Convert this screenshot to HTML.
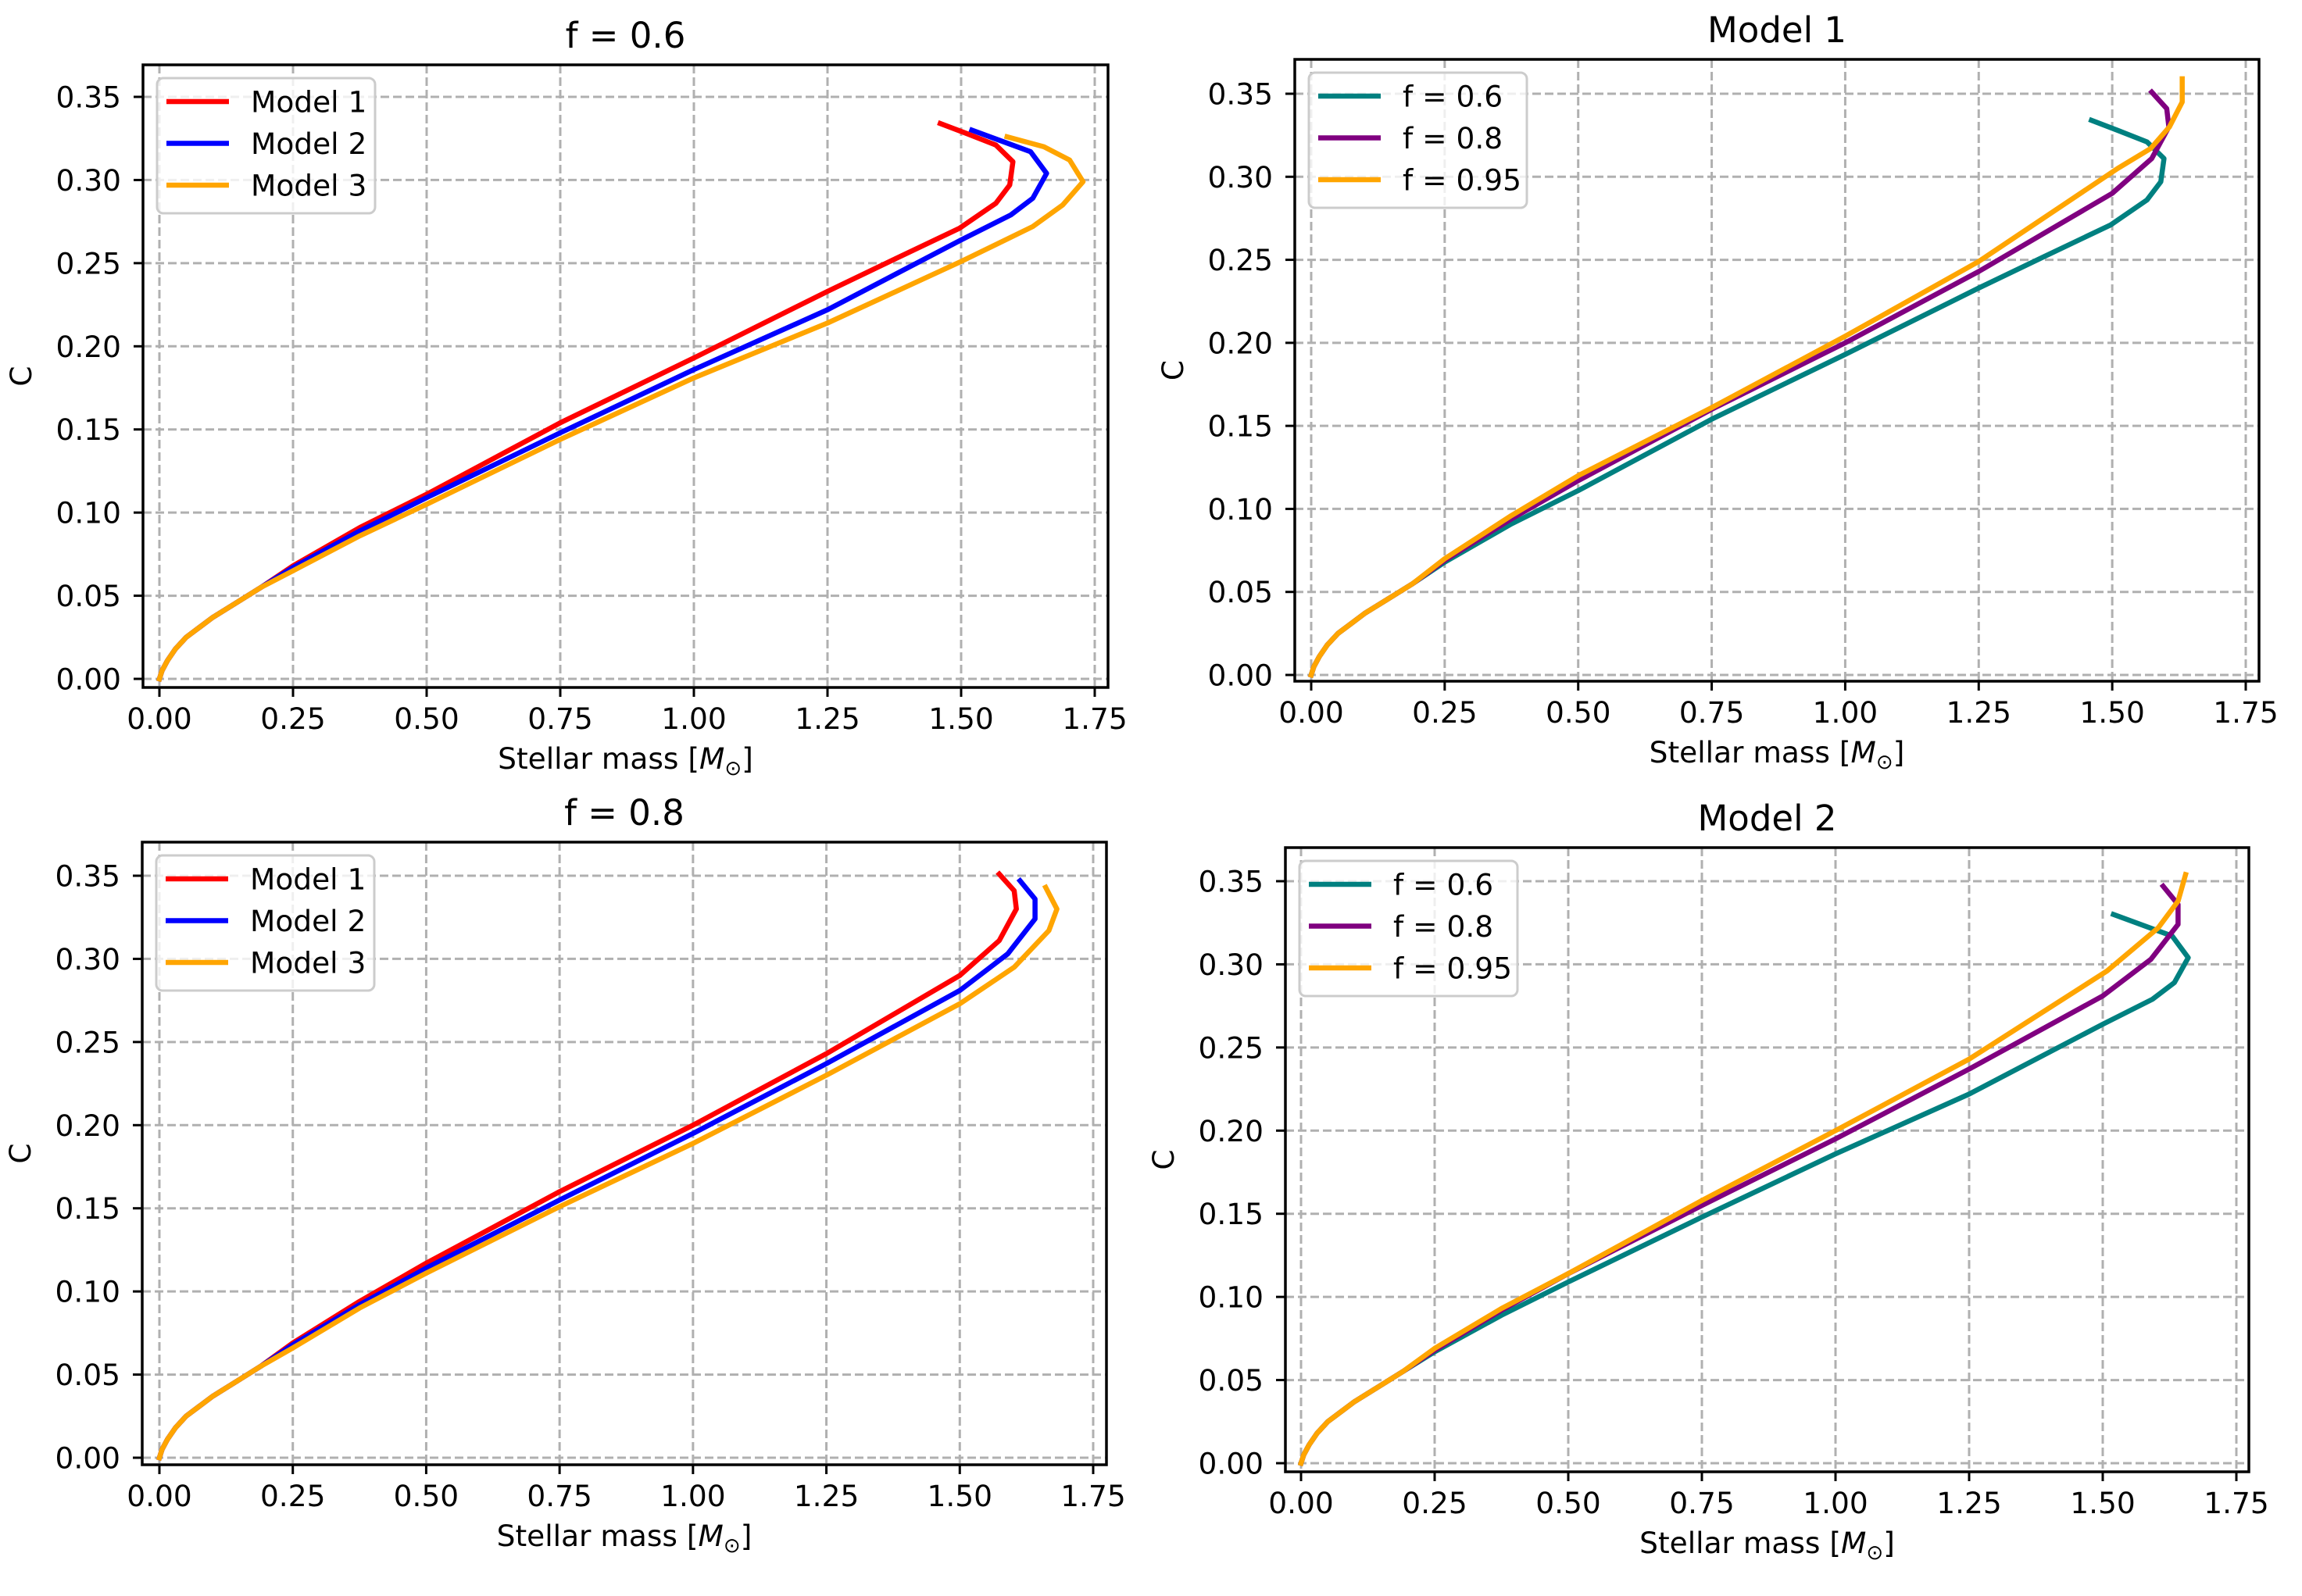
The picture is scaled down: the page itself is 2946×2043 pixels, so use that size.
<!DOCTYPE html>
<html><head><meta charset="utf-8">
<style>
html,body{margin:0;padding:0;background:#fff;}
svg{display:block;font-family:"DejaVu Sans","Liberation Sans",sans-serif;}
</style></head>
<body>
<svg id="fig" width="2946" height="2043" viewBox="0 0 2946 2043" xmlns="http://www.w3.org/2000/svg"></svg>
<script>
const xTicks = [0, 0.25, 0.5, 0.75, 1.0, 1.25, 1.5, 1.75];
const xTickLabels = ["0.00","0.25","0.50","0.75","1.00","1.25","1.50","1.75"];
const yTicks = [0, 0.05, 0.1, 0.15, 0.2, 0.25, 0.3, 0.35];
const yTickLabels = ["0.00","0.05","0.10","0.15","0.20","0.25","0.30","0.35"];

const lowM = [0, 0.005, 0.015, 0.03, 0.05, 0.075, 0.1, 0.15, 0.19];
const lowC = [0, 0.005, 0.011, 0.018, 0.025, 0.031, 0.037, 0.047, 0.055];

// f = 0.6 curves
const m1f06M = [0.25, 0.375, 0.5, 0.75, 1.0, 1.25, 1.373, 1.497, 1.565, 1.591, 1.597, 1.565, 1.51, 1.461];
const m1f06C = [0.068, 0.091, 0.111, 0.154, 0.193, 0.233, 0.252, 0.271, 0.286, 0.297, 0.311, 0.321, 0.328, 0.334];
const m2f06M = [0.25, 0.375, 0.5, 0.75, 1.0, 1.25, 1.5, 1.593, 1.634, 1.66, 1.63, 1.52];
const m2f06C = [0.067, 0.089, 0.109, 0.148, 0.186, 0.222, 0.264, 0.279, 0.289, 0.304, 0.317, 0.330];
const m3f06M = [0.25, 0.375, 0.5, 0.75, 1.0, 1.25, 1.5, 1.634, 1.69, 1.728, 1.703, 1.655, 1.586];
const m3f06C = [0.065, 0.086, 0.105, 0.144, 0.181, 0.214, 0.251, 0.272, 0.285, 0.299, 0.312, 0.320, 0.326];
// f = 0.8 curves
const m1f08M = [0.25, 0.375, 0.5, 0.75, 1.0, 1.25, 1.5, 1.574, 1.606, 1.602, 1.574];
const m1f08C = [0.069, 0.094, 0.117, 0.160, 0.200, 0.243, 0.290, 0.311, 0.330, 0.341, 0.351];
const m2f08M = [0.25, 0.375, 0.5, 0.75, 1.0, 1.25, 1.5, 1.59, 1.641, 1.641, 1.613];
const m2f08C = [0.068, 0.092, 0.114, 0.155, 0.195, 0.237, 0.281, 0.303, 0.324, 0.336, 0.347];
const m3f08M = [0.25, 0.375, 0.5, 0.75, 1.0, 1.25, 1.5, 1.602, 1.667, 1.682, 1.661];
const m3f08C = [0.066, 0.090, 0.111, 0.151, 0.189, 0.230, 0.273, 0.295, 0.317, 0.330, 0.343];
// f = 0.95 curves
const m1f95M = [0.25, 0.375, 0.5, 0.75, 1.0, 1.25, 1.51, 1.572, 1.607, 1.631, 1.631];
const m1f95C = [0.070, 0.096, 0.120, 0.161, 0.204, 0.249, 0.305, 0.317, 0.330, 0.345, 0.359];
const m2f95M = [0.25, 0.375, 0.5, 0.75, 1.0, 1.25, 1.508, 1.604, 1.641, 1.655];
const m2f95C = [0.069, 0.093, 0.114, 0.158, 0.200, 0.243, 0.296, 0.322, 0.338, 0.354];

const NS = "http://www.w3.org/2000/svg";
const svg = document.getElementById("fig");
function mk(tag, attrs, parent){
  const e = document.createElementNS(NS, tag);
  for (const k in attrs) e.setAttribute(k, attrs[k]);
  (parent||svg).appendChild(e);
  return e;
}

const panels = [
  {name:"f06", title:"f = 0.6", box:[183,83,1418,880], x0:204, x175:1401, y0:869, y35:124,
   series:[["Model 1","#ff0000",m1f06M,m1f06C],["Model 2","#0000ff",m2f06M,m2f06C],["Model 3","#ffa500",m3f06M,m3f06C]]},
  {name:"model1", title:"Model 1", box:[1657,76,2891,872], x0:1678, x175:2874, y0:864, y35:120,
   series:[["f = 0.6","#008080",m1f06M,m1f06C],["f = 0.8","#800080",m1f08M,m1f08C],["f = 0.95","#ffa500",m1f95M,m1f95C]]},
  {name:"f08", title:"f = 0.8", box:[182,1078,1416,1875], x0:204, x175:1399, y0:1866, y35:1121,
   series:[["Model 1","#ff0000",m1f08M,m1f08C],["Model 2","#0000ff",m2f08M,m2f08C],["Model 3","#ffa500",m3f08M,m3f08C]]},
  {name:"model2", title:"Model 2", box:[1645,1085,2878,1884], x0:1665, x175:2862, y0:1873, y35:1128,
   series:[["f = 0.6","#008080",m2f06M,m2f06C],["f = 0.8","#800080",m2f08M,m2f08C],["f = 0.95","#ffa500",m2f95M,m2f95C]]}
];

panels.forEach(p => {
  const g = mk("g", {});
  
  
  const xs = v => p.x0 + (p.x175 - p.x0) * v / 1.75;
  const ys = v => p.y0 + (p.y35 - p.y0) * v / 0.35;
  const [L,T,R,B] = p.box;
  const cx = (L+R)/2;
  xTicks.forEach((t,i) => {
    const ln = mk("line", {x1:xs(t), x2:xs(t), y1:T, y2:B, stroke:"#b0b0b0", "stroke-width":3, "stroke-dasharray":"11 5"}, g);
    
    
    const tk = mk("line", {x1:xs(t), x2:xs(t), y1:B, y2:B+12, stroke:"#000", "stroke-width":3}, g);
    
    
    const tx = mk("text", {x:xs(t), y:B+53, "font-size":37.5, "text-anchor":"middle", fill:"#000"}, g);
    tx.textContent = xTickLabels[i];
    
    
  });
  yTicks.forEach((t,i) => {
    const ln = mk("line", {x1:L, x2:R, y1:ys(t), y2:ys(t), stroke:"#b0b0b0", "stroke-width":3, "stroke-dasharray":"11 5"}, g);
    
    
    const tk = mk("line", {x1:L-12, x2:L, y1:ys(t), y2:ys(t), stroke:"#000", "stroke-width":3}, g);
    
    
    const tx = mk("text", {x:L-28, y:ys(t)+13.5, "font-size":37.5, "text-anchor":"end", fill:"#000"}, g);
    tx.textContent = yTickLabels[i];
    
    
  });
  p.series.forEach(s => {
    const M = lowM.concat(s[2]), C = lowC.concat(s[3]);
    const pts = M.map((m,i) => xs(m).toFixed(1)+","+ys(C[i]).toFixed(1)).join(" ");
    const pl = mk("polyline", {points:pts, fill:"none", stroke:s[1], "stroke-width":6.5, "stroke-linejoin":"round", "stroke-linecap":"square"}, g);
    
    
  });
  const fr = mk("rect", {x:L, y:T, width:R-L, height:B-T, fill:"none", stroke:"#000", "stroke-width":3.5}, g);
  
  
  const lg = mk("g", {}, g);
  
  
  const lb = mk("rect", {x:L+18, y:T+17, width:279, height:173, rx:8, fill:"#fff", "fill-opacity":0.8, stroke:"#cccccc", "stroke-width":3}, lg);
  
  
  p.series.forEach((s,i) => {
    const yy = T + 47 + i*53.5;
    const sl = mk("line", {x1:L+30, x2:L+110, y1:yy, y2:yy, stroke:s[1], "stroke-width":6.5}, lg);
    
    
    const st = mk("text", {x:L+138, y:yy+13.5, "font-size":37.5, fill:"#000"}, lg);
    st.textContent = s[0];
    
    
  });
  const ti = mk("text", {x:cx, y:T-22, "font-size":45, "text-anchor":"middle", fill:"#000"}, g);
  ti.textContent = p.title;
  
  
  const xl = mk("text", {x:cx, y:B+104, "font-size":37.5, "text-anchor":"middle", fill:"#000"}, g);
  xl.innerHTML = 'Stellar mass [<tspan font-style="italic">M</tspan><tspan font-size="26" dy="8">⊙</tspan><tspan dy="-8">]</tspan>';
  
  
  const yc = (T+B)/2, ylx = L - 143;
  const yl = mk("text", {x:ylx, y:yc, "font-size":37.5, "text-anchor":"middle", transform:"rotate(-90 "+ylx+" "+yc+")", fill:"#000"}, g);
  yl.textContent = "C";
  
  
});
</script>
</body></html>
